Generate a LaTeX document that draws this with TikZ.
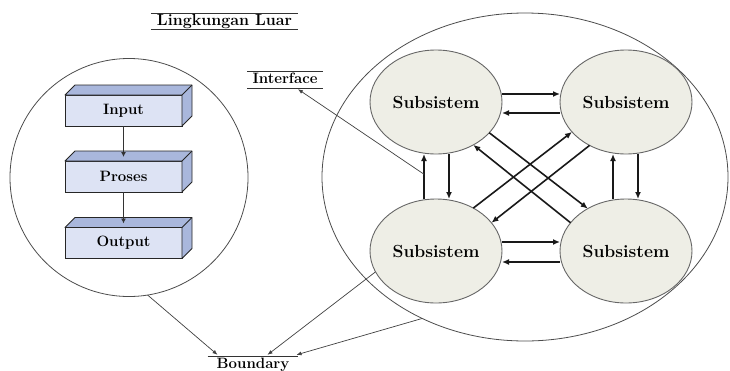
\documentclass[tikz,border=0pt]{standalone}
\usetikzlibrary{arrows.meta,calc,shapes.geometric}
\definecolor{boxfront}{HTML}{DDE3F4}
\definecolor{boxdark}{HTML}{A9B7DC}
\definecolor{subfill}{HTML}{EEEEE6}
\newcommand\drawboxdepth[1]{%
  \filldraw[fill=boxdark, draw=black!85, line width=0.9pt, line join=round]
    (#1.north west) -- ++(10,-10) -- ++(117,0) -- ++(0,31) -- (#1.south east) -- (#1.north east) -- cycle;
  \draw[draw=black!85, line width=0.9pt] (#1.north east) -- ++(10,-10);}
\begin{document}
\begin{tikzpicture}[x=1pt,y=-1pt,
  sub/.style={ellipse, draw=black!60, line width=0.9pt, fill=subfill, minimum width=132pt, minimum height=104pt, inner sep=0pt, outer sep=0pt, font=\fontsize{17.5}{20}\selectfont\bfseries},
  stepbox/.style={rectangle, draw=black!85, line width=0.9pt, fill=boxfront, minimum width=117pt, minimum height=31pt, inner sep=0pt, outer sep=0pt, font=\fontsize{15}{17}\selectfont\bfseries},
  flow/.style={-{Latex[length=7pt,width=6pt]}, line width=1.6pt, black!90},
  boxarrow/.style={-{Latex[length=5pt,width=5pt]}, line width=0.9pt, black!80},
  thinarrow/.style={-{Latex[length=5pt,width=4pt]}, line width=0.7pt, black!75},
  bound/.style={draw=black!70, line width=0.8pt, inner sep=0pt, outer sep=0pt},
  lab/.style={font=\fontsize{15}{17}\selectfont\bfseries, text height=10.5pt, text depth=3.5pt, inner ysep=0.5pt},
  rule/.style={line width=1pt, black!80}
]
\useasboundingbox (0,0) rectangle (730,370);

% boundaries
\node[circle, bound, minimum size=238pt] (lc) at (129,177.5) {};
\node[ellipse, bound, minimum width=406pt, minimum height=328pt] (big) at (525,177) {};

% left system: boxes
\node[stepbox] (in) at (123.5,110.5) {Input};
\drawboxdepth{in}
\node[stepbox] (pr) at (123.5,176.5) {Proses};
\drawboxdepth{pr}
\node[stepbox] (out) at (123.5,243) {Output};
\drawboxdepth{out}
\draw[boxarrow] (in.south) -- ([yshift=4pt]pr.north);
\draw[boxarrow] (pr.south) -- ([yshift=4pt]out.north);

% subsystems
\node[sub] (tl) at (436,102) {Subsistem};
\node[sub] (tr) at (626,102) {Subsistem};
\node[sub] (bl) at (436,251) {Subsistem};
\node[sub] (br) at (626,251) {Subsistem};

% horizontal arrows
\draw[flow] ([yshift=8pt]tl.east) -- ([yshift=8pt]tr.west);
\draw[flow] ([yshift=-11pt]tr.west) -- ([yshift=-11pt]tl.east);
\draw[flow] ([yshift=9pt]bl.east) -- ([yshift=9pt]br.west);
\draw[flow] ([yshift=-11pt]br.west) -- ([yshift=-11pt]bl.east);
% vertical arrows
\draw[flow] ([xshift=-12pt]bl.north) -- coordinate[pos=0.55] (ifc) ([xshift=-12pt]tl.south);
\draw[flow] ([xshift=13pt]tl.south) -- ([xshift=13pt]bl.north);
\draw[flow] ([xshift=-13pt]br.north) -- ([xshift=-13pt]tr.south);
\draw[flow] ([xshift=12pt]tr.south) -- ([xshift=12pt]br.north);
% diagonal arrows
\draw[flow] (tl.-30) -- (br.132);
\draw[flow] (br.153) -- (tl.-49);
\draw[flow] (bl.49) -- (tr.209);
\draw[flow] (tr.230) -- (bl.27);

% labels
\node[lab, inner xsep=6pt, font=\fontsize{16}{18}\selectfont\bfseries] (ll) at (224.5,21.5) {Lingkungan Luar};
\draw[rule] (ll.north west) -- (ll.north east);
\draw[rule] (ll.south west) -- (ll.south east);

\node[lab, inner xsep=5pt, inner ysep=1pt] (if) at (285,80) {Interface};
\draw[rule] (if.north west) -- (if.north east);
\draw[rule] (if.south west) -- (if.south east);
\draw[thinarrow] (ifc) -- ([xshift=13pt,yshift=-1pt]if.south);

\node[lab, inner xsep=9pt] (bd) at (253,364.5) {Boundary};
\draw[rule] (bd.north west) -- (bd.north east);
\draw[thinarrow] (lc.-81) -- ([xshift=10pt,yshift=2pt]bd.north west);
\draw[thinarrow] (bl.199) -- ([xshift=60pt,yshift=2pt]bd.north west);
\draw[thinarrow] (big.234.6) -- ([xshift=89pt,yshift=2pt]bd.north west);
\end{tikzpicture}
\end{document}
